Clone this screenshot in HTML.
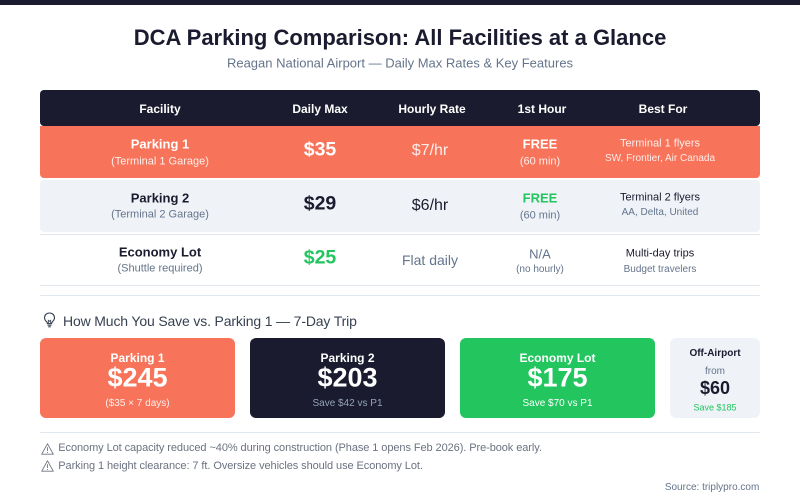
<!DOCTYPE html>
<html>
<head>
<meta charset="utf-8">
<style>
  html,body{margin:0;padding:0;background:#ffffff;}
  body{width:800px;height:500px;position:relative;overflow:hidden;font-family:"Liberation Sans",Arial,sans-serif;}
  .c{position:absolute;transform:translate(-50%,-50%);white-space:nowrap;line-height:1;}
  .box{position:absolute;}
  .line{position:absolute;height:1px;background:#e2e8f0;left:40px;width:720px;}
  .b{font-weight:bold;}
  .dk{color:#1a1b2e;}
  .gr{color:#64748b;}
  .wh{color:#ffffff;}
  .wh9{color:rgba(255,255,255,0.88);}
  .grn{color:#22c55e;}
</style>
</head>
<body>
<!-- top bar -->
<div class="box" style="left:0;top:0;width:800px;height:5px;background:#1a1b2e;"></div>

<!-- title -->
<div class="c b dk" style="left:400px;top:38px;font-size:22px;">DCA Parking Comparison: All Facilities at a Glance</div>
<div class="c gr" style="left:400px;top:63px;font-size:13px;">Reagan National Airport — Daily Max Rates &amp; Key Features</div>

<!-- header -->
<div class="box" style="left:40px;top:90px;width:720px;height:36px;background:#1a1b2e;border-radius:4px;"></div>
<div class="c b wh" style="left:160px;top:109px;font-size:12px;">Facility</div>
<div class="c b wh" style="left:320px;top:109px;font-size:12px;">Daily Max</div>
<div class="c b wh" style="left:432px;top:109px;font-size:12px;">Hourly Rate</div>
<div class="c b wh" style="left:542px;top:109px;font-size:12px;">1st Hour</div>
<div class="c b wh" style="left:663px;top:109px;font-size:12px;">Best For</div>

<!-- row 1 -->
<div class="box" style="left:40px;top:126px;width:720px;height:52px;background:#f7735a;border-radius:0 0 4px 4px;"></div>
<div class="c b wh" style="left:160px;top:144px;font-size:13px;">Parking 1</div>
<div class="c wh9" style="left:160px;top:161.5px;font-size:11px;">(Terminal 1 Garage)</div>
<div class="c b wh" style="left:320px;top:150px;font-size:19.5px;">$35</div>
<div class="c wh9" style="left:430px;top:151px;font-size:16px;">$7/hr</div>
<div class="c b wh" style="left:540px;top:143.7px;font-size:13px;">FREE</div>
<div class="c wh9" style="left:540px;top:161.5px;font-size:11px;">(60 min)</div>
<div class="c wh9" style="left:660px;top:144.3px;font-size:11px;">Terminal 1 flyers</div>
<div class="c wh9" style="left:660px;top:159.3px;font-size:10px;">SW, Frontier, Air Canada</div>

<!-- row 2 -->
<div class="box" style="left:40px;top:180px;width:720px;height:52px;background:#eff3f8;border-radius:4px;"></div>
<div class="c b dk" style="left:160px;top:197.7px;font-size:13px;">Parking 2</div>
<div class="c gr" style="left:160px;top:215.3px;font-size:11px;">(Terminal 2 Garage)</div>
<div class="c b dk" style="left:320px;top:204px;font-size:19.5px;">$29</div>
<div class="c dk" style="left:430px;top:205.5px;font-size:16px;">$6/hr</div>
<div class="c b grn" style="left:540px;top:197.7px;font-size:13px;">FREE</div>
<div class="c gr" style="left:540px;top:215.5px;font-size:11px;">(60 min)</div>
<div class="c dk" style="left:660px;top:198.3px;font-size:11px;">Terminal 2 flyers</div>
<div class="c gr" style="left:660px;top:213.3px;font-size:10px;">AA, Delta, United</div>
<div class="line" style="top:233.5px;"></div>

<!-- row 3 -->
<div class="c b dk" style="left:160px;top:251.7px;font-size:13px;">Economy Lot</div>
<div class="c gr" style="left:160px;top:269.3px;font-size:11px;">(Shuttle required)</div>
<div class="c b grn" style="left:320px;top:258px;font-size:19.5px;">$25</div>
<div class="c gr" style="left:430px;top:259.5px;font-size:14px;">Flat daily</div>
<div class="c gr" style="left:540px;top:254px;font-size:13px;">N/A</div>
<div class="c gr" style="left:540px;top:269.7px;font-size:10px;">(no hourly)</div>
<div class="c dk" style="left:660px;top:254.3px;font-size:11px;">Multi-day trips</div>
<div class="c gr" style="left:660px;top:269.7px;font-size:10px;">Budget travelers</div>
<div class="line" style="top:285px;"></div>
<div class="line" style="top:295px;"></div>

<!-- savings heading -->
<svg style="position:absolute;left:43px;top:312px;" width="13" height="16" viewBox="0 0 13 16">
  <path d="M6.5 1 C3.5 1 1.5 3.2 1.5 5.8 C1.5 7.6 2.5 8.7 3.5 9.7 C4.1 10.3 4.4 10.9 4.4 11.6 L8.6 11.6 C8.6 10.9 8.9 10.3 9.5 9.7 C10.5 8.7 11.5 7.6 11.5 5.8 C11.5 3.2 9.5 1 6.5 1 Z" fill="none" stroke="#374151" stroke-width="1.1"/>
  <line x1="4.5" y1="13.2" x2="8.5" y2="13.2" stroke="#374151" stroke-width="1.1"/>
  <line x1="5.2" y1="14.8" x2="7.8" y2="14.8" stroke="#374151" stroke-width="1.1"/>
  <path d="M5.3 11.5 L5.3 8.3 L6.5 9.3 L7.7 8.3 L7.7 11.5" fill="none" stroke="#374151" stroke-width="0.8"/>
</svg>
<div style="position:absolute;left:63px;top:312px;font-size:14px;line-height:18px;color:#374151;letter-spacing:-0.15px;white-space:nowrap;">How Much You Save vs. Parking 1 — 7-Day Trip</div>

<!-- cards -->
<div class="box" style="left:40px;top:338px;width:195px;height:80px;background:#f7735a;border-radius:6px;"></div>
<div class="c b wh" style="left:137.5px;top:358.3px;font-size:12px;">Parking 1</div>
<div class="c b wh" style="left:137.5px;top:378px;font-size:27px;">$245</div>
<div class="c wh9" style="left:137.5px;top:404.3px;font-size:10px;">($35 × 7 days)</div>

<div class="box" style="left:250px;top:338px;width:195px;height:80px;background:#1a1b2e;border-radius:6px;"></div>
<div class="c b wh" style="left:347.5px;top:358.3px;font-size:12px;">Parking 2</div>
<div class="c b wh" style="left:347.5px;top:378px;font-size:27px;">$203</div>
<div class="c" style="left:347.5px;top:404.3px;font-size:10px;color:#94a3b8;">Save $42 vs P1</div>

<div class="box" style="left:460px;top:338px;width:195px;height:80px;background:#22c55e;border-radius:6px;"></div>
<div class="c b wh" style="left:557.5px;top:358.3px;font-size:12px;">Economy Lot</div>
<div class="c b wh" style="left:557.5px;top:378px;font-size:27px;">$175</div>
<div class="c wh" style="left:557.5px;top:404.3px;font-size:10px;">Save $70 vs P1</div>

<div class="box" style="left:670px;top:338px;width:90px;height:80px;background:#eff3f8;border-radius:6px;"></div>
<div class="c b dk" style="left:715px;top:354.3px;font-size:10px;">Off-Airport</div>
<div class="c gr" style="left:715px;top:371.7px;font-size:10px;">from</div>
<div class="c b dk" style="left:715px;top:388px;font-size:18px;">$60</div>
<div class="c grn" style="left:715px;top:407.7px;font-size:9px;">Save $185</div>

<!-- footer -->
<div class="line" style="top:432px;"></div>
<svg style="position:absolute;left:41px;top:442.5px;" width="13" height="12" viewBox="0 0 13 12">
  <path d="M6.5 0.8 L12.3 11.2 L0.7 11.2 Z" fill="none" stroke="#6b7280" stroke-width="0.9" stroke-linejoin="round"/>
  <line x1="6.5" y1="4.3" x2="6.5" y2="8" stroke="#6b7280" stroke-width="0.9"/>
  <circle cx="6.5" cy="9.5" r="0.55" fill="#6b7280"/>
</svg>
<div style="position:absolute;left:58.3px;top:441.3px;font-size:11px;line-height:14px;color:#6b7280;letter-spacing:-0.08px;white-space:nowrap;">Economy Lot capacity reduced ~40% during construction (Phase 1 opens Feb 2026). Pre-book early.</div>
<svg style="position:absolute;left:41px;top:460px;" width="13" height="12" viewBox="0 0 13 12">
  <path d="M6.5 0.8 L12.3 11.2 L0.7 11.2 Z" fill="none" stroke="#6b7280" stroke-width="0.9" stroke-linejoin="round"/>
  <line x1="6.5" y1="4.3" x2="6.5" y2="8" stroke="#6b7280" stroke-width="0.9"/>
  <circle cx="6.5" cy="9.5" r="0.55" fill="#6b7280"/>
</svg>
<div style="position:absolute;left:58.3px;top:458.7px;font-size:11px;line-height:14px;color:#6b7280;letter-spacing:-0.08px;white-space:nowrap;">Parking 1 height clearance: 7 ft. Oversize vehicles should use Economy Lot.</div>

<div style="position:absolute;right:40.7px;top:481px;font-size:10px;line-height:13px;color:#64748b;white-space:nowrap;">Source: triplypro.com</div>
</body>
</html>
